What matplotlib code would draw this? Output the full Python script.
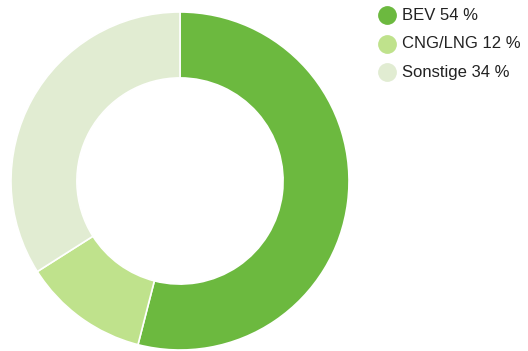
import matplotlib.pyplot as plt
from matplotlib.lines import Line2D

# Anteile nach Antriebsart
categories = ["BEV", "CNG/LNG", "Sonstige"]
shares = [54, 12, 34]
colors = ["#6cb93f", "#bfe28c", "#e1ecd2"]

fig = plt.figure(figsize=(5.28, 3.51), dpi=100)
plt.rcParams["font.family"] = ["Liberation Sans", "DejaVu Sans"]

W, H = 528, 351
cx, cy, r = 180, 181, 169
ax = fig.add_axes([(cx - r) / W, (H - cy - r) / H, 2 * r / W, 2 * r / H])
ax.pie(shares, colors=colors, startangle=90, counterclock=False, radius=1,
       wedgeprops=dict(width=0.39, edgecolor="white", linewidth=1.2))
ax.set_xlim(-1, 1)
ax.set_ylim(-1, 1)
ax.set_aspect("equal")
ax.axis("off")

# Legende rechts oben
for i, (cat, val, col) in enumerate(zip(categories, shares, colors)):
    y = 1 - (15 + i * 28.5) / H
    fig.add_artist(Line2D([387 / W], [y], marker="o", markersize=12.5,
                          color=col, linestyle="none", transform=fig.transFigure))
    fig.text(402 / W, y, f"{cat} {val} %", fontsize=12, va="center",
             ha="left", color="#222222")

fig.savefig("out.png", dpi=100)
